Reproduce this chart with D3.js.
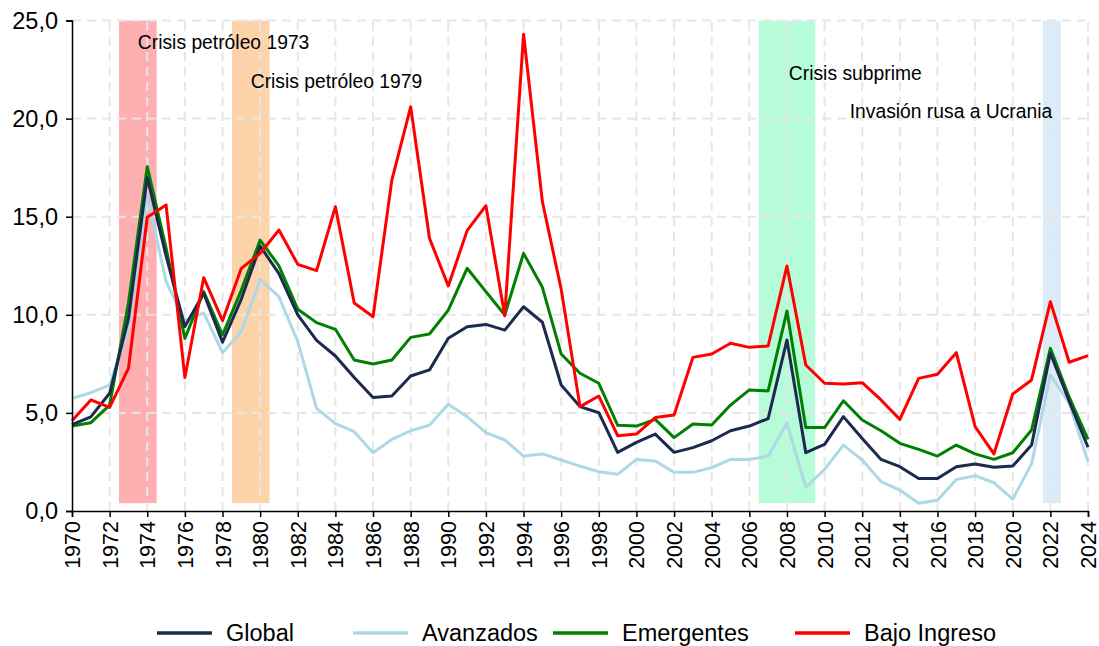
<!DOCTYPE html>
<html>
<head>
<meta charset="utf-8">
<script src="https://cdn.jsdelivr.net/npm/d3@7"></script>
<style>
  body { margin: 0; background: #fff; }
  svg { display: block; font-family: "Liberation Sans", Arial, sans-serif; }
</style>
</head>
<body>
<script>
// Years on the x axis
const years = d3.range(1970, 2025);

// Inflation series
const globalVals = [4.4, 4.8, 6.0, 9.8, 17.0, 13.0, 9.4, 11.1, 8.6, 10.8,
  13.5, 12.1, 10.0, 8.7, 7.9, 6.8, 5.78, 5.86, 6.88, 7.19,
  8.8, 9.39, 9.51, 9.22, 10.41, 9.62, 6.42, 5.32, 5.01, 2.99,
  3.5, 3.92, 2.99, 3.23, 3.58, 4.09, 4.33, 4.71, 8.72, 2.97,
  3.4, 4.81, 3.7, 2.63, 2.26, 1.66, 1.66, 2.26, 2.4, 2.23,
  2.29, 3.36, 8.04, 5.6, 3.25];
const avanzadosVals = [5.74, 6.03, 6.42, 9.3, 16.1, 11.7, 9.7, 10.1, 8.07, 9.14,
  11.81, 10.92, 8.63, 5.23, 4.45, 4.04, 2.97, 3.65, 4.09, 4.38,
  5.44, 4.81, 3.99, 3.62, 2.8, 2.91, 2.6, 2.29, 2.0, 1.87,
  2.63, 2.55, 1.97, 1.97, 2.21, 2.63, 2.63, 2.8, 4.47, 1.21,
  2.12, 3.36, 2.6, 1.5, 1.07, 0.39, 0.55, 1.6, 1.8, 1.44,
  0.6, 2.4, 6.93, 5.49, 2.51];
const emergentesVals = [4.33, 4.5, 5.4, 10.6, 17.55, 13.4, 8.8, 11.18, 8.97, 11.26,
  13.81, 12.49, 10.28, 9.6, 9.26, 7.7, 7.49, 7.7, 8.85, 9.02,
  10.24, 12.37, 11.18, 9.99, 13.13, 11.4, 8.0, 7.02, 6.51, 4.37,
  4.33, 4.67, 3.74, 4.43, 4.38, 5.4, 6.17, 6.12, 10.19, 4.25,
  4.25, 5.62, 4.64, 4.09, 3.45, 3.14, 2.8, 3.36, 2.91, 2.63,
  2.97, 4.13, 8.29, 5.8, 3.65];
const bajoVals = [4.6, 5.66, 5.28, 7.27, 14.97, 15.6, 6.8, 11.89, 9.7, 12.37,
  13.13, 14.32, 12.57, 12.25, 15.51, 10.6, 9.9, 16.87, 20.6, 13.9,
  11.47, 14.29, 15.56, 9.95, 24.3, 15.77, 11.3, 5.32, 5.86, 3.84,
  3.92, 4.76, 4.89, 7.83, 8.0, 8.55, 8.34, 8.41, 12.49, 7.44,
  6.51, 6.47, 6.54, 5.66, 4.67, 6.76, 6.97, 8.07, 4.3, 2.91,
  5.96, 6.68, 10.67, 7.58, 7.92];

const seriesNames = ["Global", "Avanzados", "Emergentes", "Bajo Ingreso"];
const seriesColors = ["#1c2a4e", "#add8e6", "#008000", "#ff0000"];

// Crisis periods (shaded bands) and their labels
const bandStart = [1972.5, 1978.5, 2006.5, 2021.6];
const bandEnd = [1974.5, 1980.5, 2009.5, 2022.55];
const bandColors = ["#fdafb2", "#fdd4aa", "#b7fcd9", "#dbecf8"];
const noteText = ["Crisis petróleo 1973", "Crisis petróleo 1979", "Crisis subprime", "Invasión rusa a Ucrania"];
const noteYear = [1973.5, 1979.5, 2008.1, 2022.1];
const noteValue = [23.9, 21.9, 22.3, 20.4];
const noteAnchor = ["start", "start", "start", "end"];

const yTicks = [0, 5, 10, 15, 20, 25];
const xTicks = d3.range(1970, 2025, 2);

const W = 1099, H = 646;
const svg = d3.select("body").append("svg").attr("width", W).attr("height", H);

const x = d3.scaleLinear().domain([1970, 2024]).range([72, 1088]);
const y = d3.scaleLinear().domain([0, 25]).range([511, 20.5]);

const locale = d3.formatLocale({ decimal: ",", thousands: ".", grouping: [3], currency: ["", "€"] });
const fmt = locale.format(".1f");

// Shaded bands
svg.append("g").selectAll("rect")
  .data(bandStart)
  .join("rect")
  .attr("x", (d, i) => x(d))
  .attr("width", (d, i) => x(bandEnd[i]) - x(d))
  .attr("y", y(25))
  .attr("height", y(0.4) - y(25))
  .attr("fill", (d, i) => bandColors[i]);

// Grid
const grid = svg.append("g")
  .attr("stroke", "#e6e6e6")
  .attr("stroke-width", 2)
  .attr("stroke-dasharray", "9,6");
grid.selectAll(".h").data(yTicks.filter(d => d > 0)).join("line")
  .attr("x1", x(1970)).attr("x2", x(2024))
  .attr("y1", d => y(d)).attr("y2", d => y(d));
grid.selectAll(".v").data(xTicks.filter(d => d > 1970)).join("line")
  .attr("x1", d => x(d)).attr("x2", d => x(d))
  .attr("y1", y(0)).attr("y2", y(25));

// Lines
const allSeries = [globalVals, avanzadosVals, emergentesVals, bajoVals];
const line = d3.line().x((d, i) => x(years[i])).y(d => y(d));
// draw order: light blue under the others, then green, navy, red
[1, 2, 0, 3].forEach(k => {
  svg.append("path")
    .datum(allSeries[k])
    .attr("fill", "none")
    .attr("stroke", seriesColors[k])
    .attr("stroke-width", 3)
    .attr("stroke-linejoin", "round")
    .attr("d", line);
});

// Annotations
svg.append("g").selectAll("text")
  .data(noteText)
  .join("text")
  .attr("x", (d, i) => x(noteYear[i]))
  .attr("y", (d, i) => y(noteValue[i]))
  .attr("dy", "0.35em")
  .attr("text-anchor", (d, i) => noteAnchor[i])
  .attr("font-size", 19.3)
  .attr("fill", "#000")
  .text(d => d);

// Axes
const yAxis = svg.append("g")
  .attr("transform", `translate(${x(1970)},0)`)
  .call(d3.axisLeft(y).tickValues(yTicks).tickFormat(fmt).tickSize(6).tickPadding(8));
yAxis.selectAll("text").attr("font-size", 23.5).attr("fill", "#000");

const xAxis = svg.append("g")
  .attr("transform", `translate(0,${y(0)})`)
  .call(d3.axisBottom(x).tickValues(xTicks).tickFormat(d3.format("d")).tickSize(6));
xAxis.selectAll("text")
  .attr("font-size", 21.5)
  .attr("fill", "#000")
  .attr("text-anchor", "end")
  .attr("transform", "rotate(-90)")
  .attr("x", -10)
  .attr("y", 0)
  .attr("dy", "0.35em");

[yAxis, xAxis].forEach(a => {
  a.select(".domain").attr("stroke", "#000").attr("stroke-width", 1.5);
  a.selectAll(".tick line").attr("stroke", "#000").attr("stroke-width", 1.5);
});

// Legend
const legendX = [157, 353, 553, 795];
const legend = svg.append("g").attr("transform", "translate(0,633)");
seriesNames.forEach((name, i) => {
  legend.append("line")
    .attr("x1", legendX[i]).attr("x2", legendX[i] + 55)
    .attr("stroke", seriesColors[i]).attr("stroke-width", 3.5);
  legend.append("text")
    .attr("x", legendX[i] + 69)
    .attr("dy", "0.35em")
    .attr("font-size", 23.5)
    .attr("fill", "#000")
    .text(name);
});
</script>
</body>
</html>
